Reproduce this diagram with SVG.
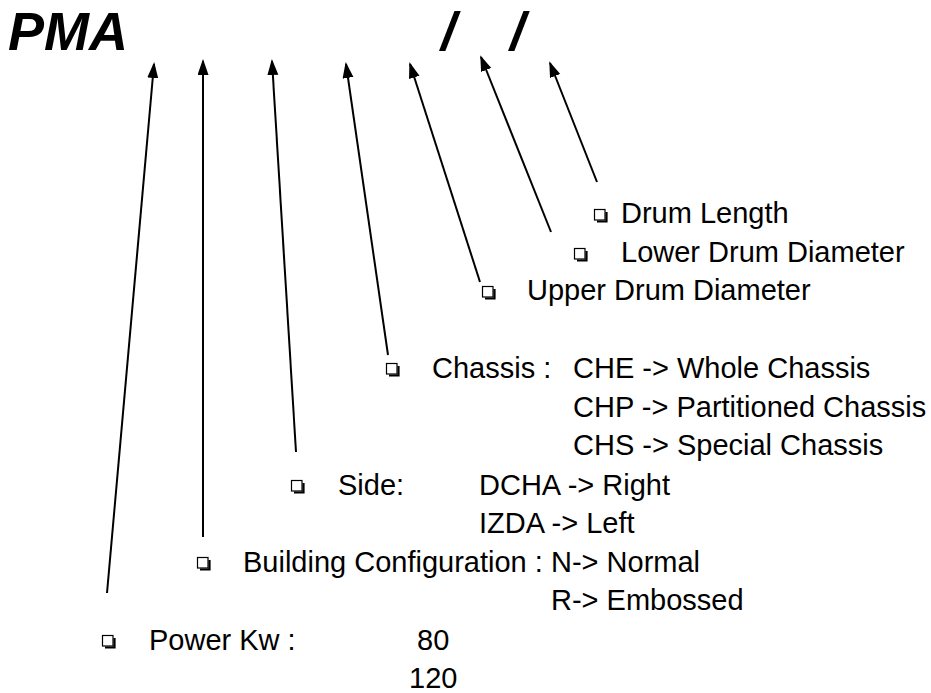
<svg xmlns="http://www.w3.org/2000/svg" width="931" height="693" viewBox="0 0 931 693">
<style>
.t{font-family:"Liberation Sans",Arial,sans-serif;font-size:29px;fill:#000}
.h{font-family:"Liberation Sans",Arial,sans-serif;font-size:54px;font-weight:bold;font-style:italic;fill:#000}
.c{stroke:#000;stroke-width:2;fill:none;marker-end:url(#ah)}
</style>
<defs>
<marker id="ah" markerUnits="userSpaceOnUse" markerWidth="17" markerHeight="12" refX="14" refY="5.5" orient="auto" viewBox="0 0 17 12">
<path d="M0,0 L16,5.5 L0,11 z" fill="#000"/>
</marker>
<g id="bul">
<path d="M3,12.5 H12.5 V3" stroke="#000" stroke-width="2.2" fill="none"/>
<rect x="0.5" y="0.5" width="10.5" height="10.5" fill="#fff" stroke="#000" stroke-width="1.2"/>
</g>
</defs>
<rect width="931" height="693" fill="#fff"/>
<g id="title">
<text class="h" x="8" y="50">PMA</text>
<text class="h" x="441" y="50">/</text>
<text class="h" x="510" y="50">/</text>
</g>
<g id="connectors">
<line class="c" x1="107" y1="593" x2="154" y2="64"/>
<line class="c" x1="203" y1="537" x2="203" y2="61"/>
<line class="c" x1="296" y1="452" x2="272" y2="61"/>
<line class="c" x1="388" y1="355" x2="346" y2="64"/>
<line class="c" x1="480" y1="282" x2="410" y2="64"/>
<line class="c" x1="551" y1="232" x2="481" y2="57"/>
<line class="c" x1="597" y1="182" x2="550" y2="63"/>
</g>
<g id="drum-length">
<use href="#bul" x="594" y="209"/>
<text class="t" x="621" y="223">Drum Length</text>
</g>
<g id="lower-drum">
<use href="#bul" x="574" y="248"/>
<text class="t" x="621" y="262">Lower Drum Diameter</text>
</g>
<g id="upper-drum">
<use href="#bul" x="482" y="286"/>
<text class="t" x="527" y="300">Upper Drum Diameter</text>
</g>
<g id="chassis">
<use href="#bul" x="386" y="363"/>
<text class="t" x="432" y="378">Chassis :</text>
<text class="t" x="573" y="378">CHE -&gt; Whole Chassis</text>
<text class="t" x="573" y="417">CHP -&gt; Partitioned Chassis</text>
<text class="t" x="573" y="455">CHS -&gt; Special Chassis</text>
</g>
<g id="side">
<use href="#bul" x="291" y="480"/>
<text class="t" x="338" y="495">Side:</text>
<text class="t" x="479" y="495">DCHA -&gt; Right</text>
<text class="t" x="479" y="533">IZDA -&gt; Left</text>
</g>
<g id="building">
<use href="#bul" x="197" y="557"/>
<text class="t" x="243" y="572">Building Configuration :</text>
<text class="t" x="551" y="572">N-&gt; Normal</text>
<text class="t" x="551" y="610">R-&gt; Embossed</text>
</g>
<g id="power">
<use href="#bul" x="102" y="635"/>
<text class="t" x="149" y="650">Power Kw :</text>
<text class="t" x="417" y="650">80</text>
<text class="t" x="409" y="688">120</text>
</g>
</svg>
